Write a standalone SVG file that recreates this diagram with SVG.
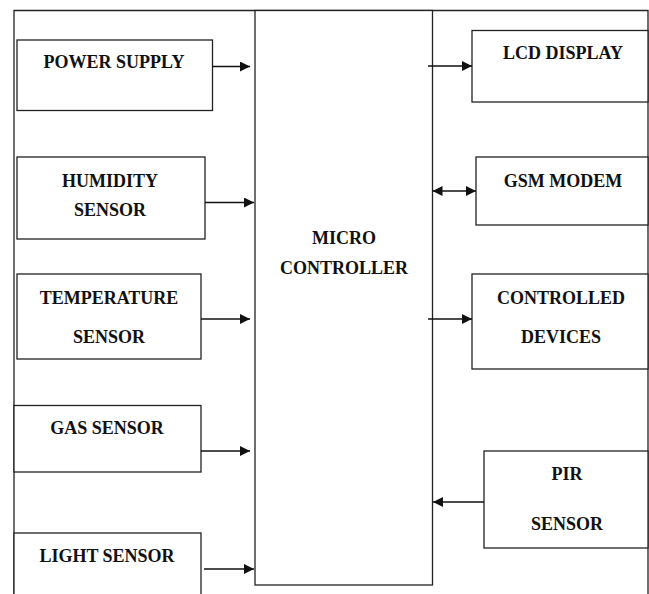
<svg xmlns="http://www.w3.org/2000/svg" width="649" height="594" viewBox="0 0 649 594">
<style>
.box{fill:#fff;stroke:#222;stroke-width:1.3}
.frame{fill:none;stroke:#222;stroke-width:1.3}
.t{font-family:"Liberation Serif","Times New Roman",serif;font-weight:bold;font-size:18px;fill:#111;text-anchor:middle}
.c{stroke:#111;stroke-width:1.5;fill:none}
</style>
<defs>
<marker id="ah" viewBox="0 0 10 10" refX="10" refY="5" markerWidth="10" markerHeight="10" markerUnits="userSpaceOnUse" orient="auto-start-reverse">
<path d="M0,0 L10,5 L0,10 Z" fill="#111"/>
</marker>
</defs>
<rect width="649" height="594" fill="#fff"/>
<g id="frame">
<path class="frame" d="M14,594 L14,10.5 L648,10.5 L648,594"/>
</g>
<g id="microcontroller">
<rect class="box" x="255" y="10.5" width="177.5" height="574.5"/>
<text class="t" x="344" y="244">MICRO</text>
<text class="t" x="344" y="274">CONTROLLER</text>
</g>
<g id="power-supply">
<rect class="box" x="17" y="40" width="195.5" height="70.5"/>
<text class="t" x="114" y="68">POWER SUPPLY</text>
</g>
<g id="humidity-sensor">
<rect class="box" x="17" y="157" width="188" height="82"/>
<text class="t" x="110" y="187">HUMIDITY</text>
<text class="t" x="110" y="216">SENSOR</text>
</g>
<g id="temperature-sensor">
<rect class="box" x="17" y="274" width="184" height="85"/>
<text class="t" x="109" y="304">TEMPERATURE</text>
<text class="t" x="109" y="343">SENSOR</text>
</g>
<g id="gas-sensor">
<rect class="box" x="14" y="405.5" width="187" height="66.5"/>
<text class="t" x="107" y="434">GAS SENSOR</text>
</g>
<g id="light-sensor">
<rect class="box" x="14" y="533" width="187" height="70"/>
<text class="t" x="107" y="562">LIGHT SENSOR</text>
</g>
<g id="lcd-display">
<rect class="box" x="472" y="30.5" width="176" height="71.5"/>
<text class="t" x="563" y="59">LCD DISPLAY</text>
</g>
<g id="gsm-modem">
<rect class="box" x="476" y="157" width="172" height="68"/>
<text class="t" x="563" y="187">GSM MODEM</text>
</g>
<g id="controlled-devices">
<rect class="box" x="472" y="274" width="176" height="95"/>
<text class="t" x="561" y="304">CONTROLLED</text>
<text class="t" x="561" y="343">DEVICES</text>
</g>
<g id="pir-sensor">
<rect class="box" x="484" y="451" width="164" height="97"/>
<text class="t" x="567" y="480">PIR</text>
<text class="t" x="567" y="530">SENSOR</text>
</g>
<g id="connectors">
<line class="c" x1="212.5" y1="66.5" x2="250" y2="66.5" marker-end="url(#ah)"/>
<line class="c" x1="205" y1="202.5" x2="254" y2="202.5" marker-end="url(#ah)"/>
<line class="c" x1="201" y1="319" x2="250" y2="319" marker-end="url(#ah)"/>
<line class="c" x1="201" y1="451" x2="250" y2="451" marker-end="url(#ah)"/>
<line class="c" x1="204" y1="569" x2="254" y2="569" marker-end="url(#ah)"/>
<line class="c" x1="428" y1="66" x2="472" y2="66" marker-end="url(#ah)"/>
<line class="c" x1="432.5" y1="191" x2="476" y2="191" marker-start="url(#ah)" marker-end="url(#ah)"/>
<line class="c" x1="428" y1="319" x2="472" y2="319" marker-end="url(#ah)"/>
<line class="c" x1="484" y1="502" x2="433" y2="502" marker-end="url(#ah)"/>
</g>
</svg>
